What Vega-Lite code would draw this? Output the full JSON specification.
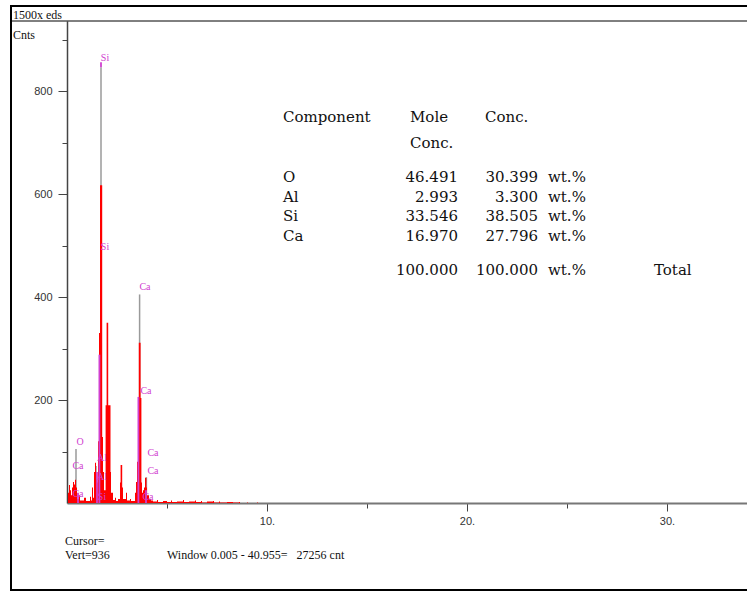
{
  "$schema": "https://vega.github.io/schema/vega-lite/v6.json",
  "width": 680,
  "height": 482,
  "autosize": {"type": "none"},
  "padding": {"left": 67, "top": 21, "right": 0, "bottom": 90},
  "background": "white",
  "config": {"view": {"stroke": null}},
  "datasets": {
    "spec": [
      {"e": 0.00, "c": 0}, {"e": 0.05, "c": 20}, {"e": 0.10, "c": 35}, {"e": 0.15, "c": 25}, {"e": 0.20, "c": 15},
      {"e": 0.25, "c": 30}, {"e": 0.30, "c": 41}, {"e": 0.35, "c": 36}, {"e": 0.40, "c": 45}, {"e": 0.45, "c": 30},
      {"e": 0.50, "c": 8}, {"e": 0.60, "c": 15}, {"e": 0.65, "c": 5}, {"e": 0.85, "c": 10}, {"e": 0.95, "c": 4},
      {"e": 1.15, "c": 12}, {"e": 1.20, "c": 5}, {"e": 1.25, "c": 30}, {"e": 1.30, "c": 10}, {"e": 1.35, "c": 60},
      {"e": 1.40, "c": 78}, {"e": 1.45, "c": 45}, {"e": 1.50, "c": 40}, {"e": 1.55, "c": 120}, {"e": 1.60, "c": 330},
      {"e": 1.65, "c": 617}, {"e": 1.76, "c": 128}, {"e": 1.80, "c": 60}, {"e": 1.85, "c": 25}, {"e": 1.93, "c": 190},
      {"e": 1.98, "c": 350}, {"e": 2.06, "c": 190}, {"e": 2.175, "c": 60}, {"e": 2.20, "c": 20}, {"e": 2.30, "c": 6},
      {"e": 2.40, "c": 10}, {"e": 2.45, "c": 4}, {"e": 2.55, "c": 8}, {"e": 2.65, "c": 40}, {"e": 2.68, "c": 74},
      {"e": 2.76, "c": 30}, {"e": 2.80, "c": 8}, {"e": 2.95, "c": 20}, {"e": 3.00, "c": 5}, {"e": 3.15, "c": 8},
      {"e": 3.20, "c": 4}, {"e": 3.40, "c": 20}, {"e": 3.45, "c": 41}, {"e": 3.50, "c": 80}, {"e": 3.55, "c": 204},
      {"e": 3.59, "c": 311}, {"e": 3.68, "c": 204}, {"e": 3.72, "c": 40}, {"e": 3.75, "c": 20}, {"e": 3.80, "c": 25},
      {"e": 3.85, "c": 30}, {"e": 3.90, "c": 49}, {"e": 3.97, "c": 30}, {"e": 4.00, "c": 15}, {"e": 4.10, "c": 8},
      {"e": 4.20, "c": 5}, {"e": 4.30, "c": 3}, {"e": 4.50, "c": 6}, {"e": 4.55, "c": 2}, {"e": 4.80, "c": 4},
      {"e": 5.00, "c": 2}, {"e": 5.20, "c": 5}, {"e": 5.25, "c": 2}, {"e": 5.50, "c": 3}, {"e": 5.80, "c": 6},
      {"e": 5.85, "c": 2}, {"e": 6.10, "c": 3}, {"e": 6.40, "c": 5}, {"e": 6.45, "c": 2}, {"e": 6.70, "c": 4},
      {"e": 6.75, "c": 1}, {"e": 7.00, "c": 3}, {"e": 7.30, "c": 4}, {"e": 7.35, "c": 1}, {"e": 7.60, "c": 3},
      {"e": 7.65, "c": 1}, {"e": 8.00, "c": 2}, {"e": 8.30, "c": 1}, {"e": 8.60, "c": 2}, {"e": 8.65, "c": 0},
      {"e": 9.00, "c": 1}, {"e": 9.05, "c": 0}, {"e": 9.50, "c": 1}, {"e": 9.55, "c": 0}, {"e": 10.0, "c": 0}
    ],
    "gray": [
      {"e": 0.45, "c": 0, "c2": 105},
      {"e": 1.45, "c": 0, "c2": 72},
      {"e": 1.70, "c": 0, "c2": 846},
      {"e": 3.63, "c": 0, "c2": 405},
      {"e": 3.97, "c": 0, "c2": 50}
    ],
    "mag": [
      {"e": 0.55, "c": 0, "c2": 20},
      {"e": 1.50, "c": 0, "c2": 60},
      {"e": 1.62, "c": 0, "c2": 288},
      {"e": 1.70, "c": 846, "c2": 856},
      {"e": 3.57, "c": 0, "c2": 206},
      {"e": 3.95, "c": 0, "c2": 25}
    ],
    "lbl": [
      {"e": 1.9, "c": 864, "t": "Si"},
      {"e": 1.9, "c": 497, "t": "Si"},
      {"e": 3.9, "c": 419, "t": "Ca"},
      {"e": 3.95, "c": 217, "t": "Ca"},
      {"e": 0.65, "c": 118, "t": "O"},
      {"e": 0.55, "c": 72, "t": "Ca"},
      {"e": 0.55, "c": 17, "t": "Ca"},
      {"e": 1.75, "c": 87, "t": "Al"},
      {"e": 1.75, "c": 50, "t": "Al"},
      {"e": 1.75, "c": 12, "t": "Si"},
      {"e": 4.3, "c": 97, "t": "Ca"},
      {"e": 4.3, "c": 62, "t": "Ca"},
      {"e": 4.05, "c": 12, "t": "Ca"}
    ],
    "tl": [
      {"e": 10.8, "c": 749.5, "t": "Component"},
      {"e": 17.15, "c": 749.5, "t": "Mole"},
      {"e": 17.15, "c": 699, "t": "Conc."},
      {"e": 20.9, "c": 749.5, "t": "Conc."},
      {"e": 10.8, "c": 633, "t": "O"},
      {"e": 10.8, "c": 594, "t": "Al"},
      {"e": 10.8, "c": 557, "t": "Si"},
      {"e": 10.8, "c": 518.4, "t": "Ca"},
      {"e": 24.05, "c": 633, "t": "wt.%"},
      {"e": 24.05, "c": 594, "t": "wt.%"},
      {"e": 24.05, "c": 557, "t": "wt.%"},
      {"e": 24.05, "c": 518.4, "t": "wt.%"},
      {"e": 24.05, "c": 452.4, "t": "wt.%"},
      {"e": 29.35, "c": 452.4, "t": "Total"}
    ],
    "tr": [
      {"e": 19.55, "c": 633, "t": "46.491"},
      {"e": 19.55, "c": 594, "t": "2.993"},
      {"e": 19.55, "c": 557, "t": "33.546"},
      {"e": 19.55, "c": 518.4, "t": "16.970"},
      {"e": 19.55, "c": 452.4, "t": "100.000"},
      {"e": 23.55, "c": 633, "t": "30.399"},
      {"e": 23.55, "c": 594, "t": "3.300"},
      {"e": 23.55, "c": 557, "t": "38.505"},
      {"e": 23.55, "c": 518.4, "t": "27.796"},
      {"e": 23.55, "c": 452.4, "t": "100.000"}
    ],
    "misc": [
      {"e": -2.7, "c": 947.6, "t": "1500x eds"},
      {"e": -2.7, "c": 908.8, "t": "Cnts"},
      {"e": -0.1, "c": -73.8, "t": "Cursor="},
      {"e": -0.1, "c": -101, "t": "Vert=936"},
      {"e": 5.0, "c": -101, "t": "Window 0.005 - 40.955=\u00a0\u00a0\u00a027256 cnt"}
    ],
    "frame": [{"e": -2.8, "e2": 35, "c": -169, "c2": 965}],
    "hdr": [{"e": -2.8, "e2": 35, "c": 936}]
  },
  "encoding": {
    "x": {
      "field": "e", "type": "quantitative",
      "scale": {"domain": [0, 34], "nice": false, "zero": false},
      "axis": {
        "values": [5, 10, 15, 20, 25, 30],
        "labelExpr": "datum.value % 10 === 0 ? datum.value + '.' : ''",
        "tickSize": {"condition": {"test": "datum.value % 10 === 0", "value": 8}, "value": 5},
        "tickColor": "#444", "tickWidth": 1,
        "domainColor": "#777", "domainWidth": 2,
        "labelFont": "Liberation Sans", "labelFontSize": 11, "labelColor": "#333",
        "labelPadding": 4, "grid": false, "title": null
      }
    },
    "y": {
      "field": "c", "type": "quantitative",
      "scale": {"domain": [0, 936], "nice": false, "zero": false},
      "axis": {
        "values": [100, 200, 300, 400, 500, 600, 700, 800, 900],
        "labelExpr": "datum.value % 200 === 0 ? datum.label : ''",
        "tickSize": {"condition": {"test": "datum.value % 200 === 0", "value": 9}, "value": 5},
        "tickColor": "#444", "tickWidth": 1,
        "domainColor": "#444", "domainWidth": 1.5,
        "labelFont": "Liberation Sans", "labelFontSize": 11, "labelColor": "#333",
        "labelPadding": 6, "grid": false, "title": null
      }
    }
  },
  "layer": [
    {
      "data": {"name": "frame"},
      "mark": {"type": "rect", "fill": null, "stroke": "black", "strokeWidth": 2},
      "encoding": {"x2": {"field": "e2"}, "y2": {"field": "c2"}}
    },
    {
      "data": {"name": "hdr"},
      "mark": {"type": "rule", "color": "black", "strokeWidth": 1},
      "encoding": {"x2": {"field": "e2"}}
    },
    {
      "data": {"name": "gray"},
      "mark": {"type": "rule", "color": "#9a9a9a", "strokeWidth": 1.5},
      "encoding": {"y2": {"field": "c2"}}
    },
    {
      "data": {"name": "spec"},
      "mark": {"type": "area", "interpolate": "step-after", "color": "#ff0000"},
      "encoding": {}
    },
    {
      "data": {"name": "mag"},
      "mark": {"type": "rule", "color": "#d040d0", "strokeWidth": 1.8},
      "encoding": {"y2": {"field": "c2"}}
    },
    {
      "data": {"name": "lbl"},
      "mark": {"type": "text", "font": "Liberation Serif", "fontSize": 10, "color": "#d040d0", "align": "center", "baseline": "middle"},
      "encoding": {"text": {"field": "t"}}
    },
    {
      "data": {"name": "tl"},
      "mark": {"type": "text", "font": "DejaVu Serif", "fontSize": 15, "color": "#111", "align": "left", "baseline": "middle"},
      "encoding": {"text": {"field": "t"}}
    },
    {
      "data": {"name": "tr"},
      "mark": {"type": "text", "font": "DejaVu Serif", "fontSize": 15, "color": "#111", "align": "right", "baseline": "middle"},
      "encoding": {"text": {"field": "t"}}
    },
    {
      "data": {"name": "misc"},
      "mark": {"type": "text", "font": "Liberation Serif", "fontSize": 12, "color": "#111", "align": "left", "baseline": "middle"},
      "encoding": {"text": {"field": "t"}}
    }
  ]
}
